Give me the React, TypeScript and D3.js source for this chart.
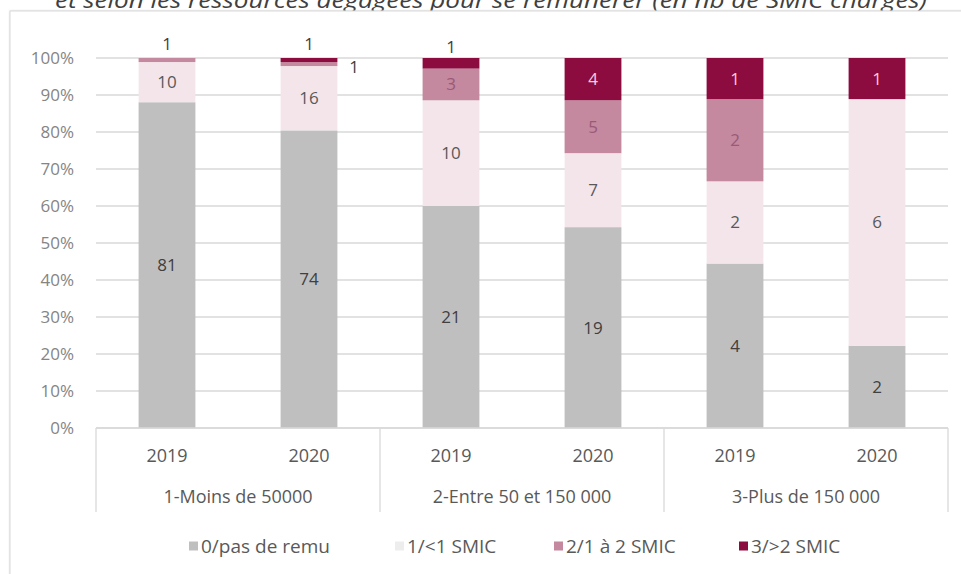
import React from 'react';
import * as d3 from 'd3';

const title = 'et selon les ressources dégagées pour se rémunérer (en nb de SMIC chargés)';
const years = ['2019', '2020', '2019', '2020', '2019', '2020'];
const groups = ['1-Moins de 50000', '2-Entre 50 et 150 000', '3-Plus de 150 000'];
const seriesNames = ['0/pas de remu', '1/<1 SMIC', '2/1 à 2 SMIC', '3/>2 SMIC'];
const pasDeRemu = [81, 74, 21, 19, 4, 2];
const moinsUnSmic = [10, 16, 10, 7, 2, 6];
const unADeuxSmic = [1, 1, 3, 5, 2, 0];
const plusDeDeuxSmic = [0, 1, 1, 4, 1, 1];
const yTicks = [0, 0.1, 0.2, 0.3, 0.4, 0.5, 0.6, 0.7, 0.8, 0.9, 1];

const colors = ['#BFBFBF', '#F3E5EA', '#C4889F', '#8C0C40'];
const labelColors = ['#404040', '#595959', '#9A5A75', '#F6CCDD'];
const legendColors = ['#BFBFBF', '#EDEDED', '#C4889F', '#8C0C40'];

const W = 961;
const H = 574;
const FONT = "'Open Sans', sans-serif";

export default function App() {
  const keys = years.map((_, i) => String(i));
  const rows = keys.map((k, i) => ({
    key: k,
    s0: pasDeRemu[i],
    s1: moinsUnSmic[i],
    s2: unADeuxSmic[i],
    s3: plusDeDeuxSmic[i],
  }));
  const stack = d3.stack<any>().keys(['s0', 's1', 's2', 's3']).offset(d3.stackOffsetExpand);
  const layers = stack(rows);

  const x = d3.scaleBand().domain(keys).range([96, 948]).paddingInner(0.6).paddingOuter(0.3);
  const y = d3.scaleLinear().domain([0, 1]).range([428, 58]);
  const step = x.step();
  const bw = x.bandwidth();

  const labels: any[] = [];
  layers.forEach((layer, si) => {
    layer.forEach((d, i) => {
      const v = (rows[i] as any)['s' + si];
      if (!v) return;
      const share = d[1] - d[0];
      const cx = (x(keys[i]) as number) + bw / 2;
      const cy = (y(d[0]) + y(d[1])) / 2;
      if (share >= 0.03) {
        labels.push({ x: cx, y: cy, t: v, c: labelColors[si] });
      } else {
        const isTop = layers.slice(si + 1).every((l) => l[i][1] - l[i][0] === 0);
        if (isTop) labels.push({ x: cx, y: cy - 16, t: v, c: '#404040' });
        else labels.push({ x: cx + 45, y: cy + 3, t: v, c: '#404040' });
      }
    });
  });

  const legendX = [189, 395, 554, 739];

  return (
    <div style={{ position: 'fixed', left: 0, top: 0, width: W, height: H, background: '#fff' }}>
      <svg width={W} height={H} style={{ display: 'block', fontFamily: FONT }}>
        <defs>
          <filter id="sh" x="-5%" y="-5%" width="110%" height="110%">
            <feGaussianBlur stdDeviation="1.2" />
          </filter>
        </defs>
        <rect x={0} y={0} width={W} height={H} fill="#fff" />
        <text
          x={491}
          y={8}
          textAnchor="middle"
          fontSize={21}
          fontStyle="italic"
          fill="#404040"
          textLength={872}
          lengthAdjust="spacingAndGlyphs"
        >
          {title}
        </text>
        <rect x={11} y={12} width={1000} height={600} fill="none" stroke="#C8C8C8" strokeWidth={2} filter="url(#sh)" />
        <rect x={10} y={11} width={1000} height={600} fill="#fff" stroke="#D9D9D9" strokeWidth={1} />

        {yTicks.map((t) => (
          <line key={'g' + t} x1={96} x2={948} y1={y(t)} y2={y(t)} stroke="#D9D9D9" strokeWidth={1.3} />
        ))}
        {yTicks.map((t) => (
          <text key={'t' + t} x={74} y={y(t)} dy="0.35em" textAnchor="end" fontSize={17} fill="#858585">
            {d3.format('.0%')(t)}
          </text>
        ))}

        {layers.map((layer, si) => (
          <g key={'l' + si} fill={colors[si]}>
            {layer.map((d, i) => (
              <rect
                key={i}
                x={x(keys[i]) as number}
                y={y(d[1])}
                width={bw}
                height={Math.max(0, y(d[0]) - y(d[1]))}
              />
            ))}
          </g>
        ))}

        {labels.map((l, i) => (
          <text key={'dl' + i} x={l.x} y={l.y} dy="0.35em" textAnchor="middle" fontSize={17} fill={l.c}>
            {l.t}
          </text>
        ))}

        <line x1={96} x2={948} y1={y(0)} y2={y(0)} stroke="#D9D9D9" strokeWidth={1.3} />
        {[0, 1, 2, 3].map((g) => {
          const xx = 96 + g * 2 * step;
          return <line key={'sep' + g} x1={xx} x2={xx} y1={y(0)} y2={512} stroke="#D9D9D9" strokeWidth={1.3} />;
        })}
        {years.map((yr, i) => (
          <text
            key={'yr' + i}
            x={(x(keys[i]) as number) + bw / 2}
            y={456}
            dy="0.35em"
            textAnchor="middle"
            fontSize={18}
            fill="#595959"
          >
            {yr}
          </text>
        ))}
        {groups.map((g, gi) => (
          <text
            key={'grp' + gi}
            x={96 + (gi * 2 + 1) * step}
            y={497}
            dy="0.35em"
            textAnchor="middle"
            fontSize={18}
            fill="#595959"
          >
            {g}
          </text>
        ))}

        {seriesNames.map((s, i) => (
          <g key={'lg' + i} transform={`translate(${legendX[i]},546)`}>
            <rect x={0} y={-4.5} width={9} height={9} fill={legendColors[i]} />
            <text x={12} y={0} dy="0.35em" fontSize={19} fill="#595959">
              {s}
            </text>
          </g>
        ))}
      </svg>
    </div>
  );
}
